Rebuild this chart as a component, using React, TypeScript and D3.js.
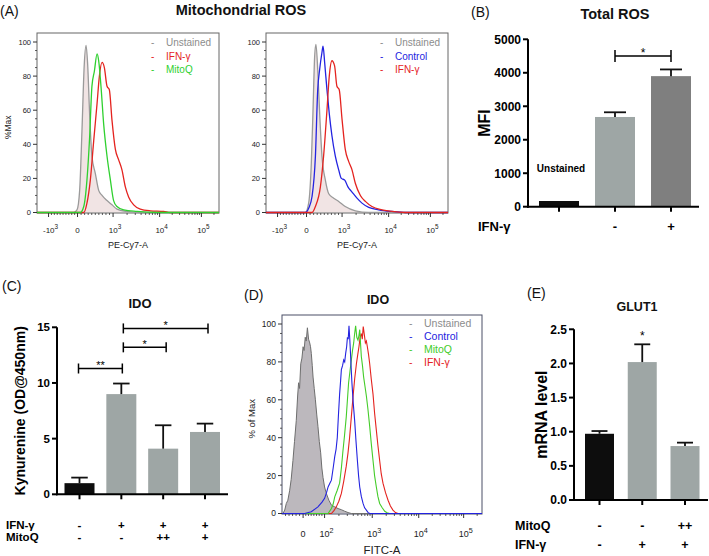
import React from "react";
import * as d3 from "d3";

const FONT = "'Liberation Sans', Arial, Helvetica, sans-serif";
const GAMMA_LABEL = "IFN-\u03b3";

type Pt = [number, number];

// ---------- Panel A (flow histograms, x in display channels 0-1024, y in %Max) ----------
const aTickChannels = [65, 228, 428, 690, 925];
const aTickBase = ["-10", "0", "10", "10", "10"];
const aTickExp = ["3", "", "3", "4", "5"];

const aLeftUnstained: Pt[] = [[0,0],[206,0],[225,1.5],[240,13],[253,48],[266,87],[276,98],[285,87],[296,58],[309,33],[328,23],[347,13],[366,10],[394,7],[422,4.5],[450,2],[506,0.6],[581,0],[1024,0]];
const aLeftIfn: Pt[] = [[0,0],[263,0],[281,5.5],[300,19],[319,42],[338,64],[351,80],[366,88],[379,85],[394,74],[407,72],[422,54],[441,37],[459,31],[478,25],[497,15],[516,9],[544,4.5],[581,2],[638,1],[713,0.6],[750,0],[1024,0]];
const aLeftMitoQ: Pt[] = [[0,0],[244,0],[263,3.5],[281,19],[296,44],[309,74],[323,83],[338,93],[347,89],[360,74],[375,52],[394,33],[413,19],[431,7],[450,3.5],[488,1.5],[563,0.6],[675,0],[1024,0]];

const aRightUnstained: Pt[] = [[0,0],[221,0],[240,5.5],[255,29],[264,58],[274,92],[281,98.6],[291,84],[302,58],[315,33],[334,19],[353,11],[381,8.4],[409,6.5],[446,3.5],[503,1],[578,0],[1024,0]];
const aRightControl: Pt[] = [[0,0],[221,0],[240,2.5],[259,9.4],[278,33],[291,72],[302,84],[315,94],[321,97.6],[330,88],[343,72],[356,58],[371,45],[390,33],[409,25],[424,20],[443,19],[461,15],[484,12],[512,8.4],[540,5.5],[578,3],[634,1.6],[709,0.6],[784,0],[1024,0]];
const aRightIfn: Pt[] = [[0,0],[259,0],[278,3.5],[306,15],[324,33],[343,60],[356,80],[371,89],[386,86],[399,74],[412,72],[428,54.5],[446,37],[465,30],[484,25],[503,17],[531,10],[559,6.5],[596,3.5],[653,1.6],[709,0.6],[784,0],[1024,0]];

const aLeftLegend = ["Unstained", GAMMA_LABEL, "MitoQ"];
const aRightLegend = ["Unstained", "Control", GAMMA_LABEL];

// ---------- Panel B ----------
const bCats = ["Unstained", "Control", "IFN"];
const bValues = [170, 2680, 3900];
const bErrors = [0, 140, 200];
const bTicks = [0, 1000, 2000, 3000, 4000, 5000];
const bIfnRow = ["", "-", "+"];

// ---------- Panel C ----------
const cCats = ["c1", "c2", "c3", "c4"];
const cValues = [1.0, 9.0, 4.1, 5.6];
const cErrors = [0.5, 0.95, 2.1, 0.75];
const cTicks = [0, 5, 10, 15];
const cIfnRow = ["-", "+", "+", "+"];
const cMitoRow = ["-", "-", "++", "+"];
const cBrackets: { a: number; b: number; level: number; label: string }[] = [
  { a: 0, b: 1, level: 11.3, label: "**" },
  { a: 1, b: 2, level: 13.2, label: "*" },
  { a: 1, b: 3, level: 14.9, label: "*" },
];

// ---------- Panel D ----------
const dTickChannels = [108, 218, 462, 700, 930];
const dTickBase = ["0", "10", "10", "10", "10"];
const dTickExp = ["", "2", "3", "4", "5"];
const dUnstained: Pt[] = [[0,0],[5,0],[14,1.8],[22,5.3],[30,7],[39,12],[47,18],[56,28],[64,38],[73,49],[80,62],[85,69],[90,66],[96,79],[102,82],[108,88],[113,86],[119,93],[124,91],[130,98],[136,92],[142,90],[146,88],[150,84.5],[155,78],[159,72],[165,66],[171,60],[178,52],[184,46],[191,38],[198,32],[204,24],[210,19],[218,14],[227,10.6],[240,7],[253,4.4],[270,3.5],[287,2.6],[304,2],[321,1.2],[338,0.5],[355,0],[1024,0]];
const dControl: Pt[] = [[0,0],[116,0],[150,0.9],[184,3.5],[205,6],[218,8],[228,11],[236,14],[245,16],[253,17.6],[262,24],[270,30],[277,34],[283,40],[289,52],[295,63],[300,70],[304,76],[310,78],[316,81],[321,80],[326,84.5],[331,88],[335,93],[339,92],[343,99],[347,92],[350,86],[354,77],[358,69],[365,58],[372,49],[379,38],[386,28],[392,20],[398,14],[406,9],[415,5.3],[423,3],[432,1.8],[440,0.6],[449,0],[1024,0]];
const dMitoQ: Pt[] = [[0,0],[236,0],[253,2.6],[262,5],[270,8.8],[282,12],[295,16],[304,24],[312,33],[320,41],[329,51],[335,60],[341,69],[348,75],[355,81],[361,86],[367,90],[372,95],[377,99],[383,93],[389,91.5],[394,94],[398,97],[402,90],[406,83],[412,78],[418,72],[425,67],[432,62],[440,55],[449,46],[457,37],[466,28],[474,20],[483,14],[491,9],[500,5.3],[513,3],[526,1.2],[538,0.4],[551,0],[1024,0]];
const dIfn: Pt[] = [[0,0],[253,0],[266,1.5],[278,3.5],[291,6.5],[304,10.6],[316,17],[329,25],[338,32],[346,40],[355,51],[364,62],[372,71],[381,79],[388,84],[394,88],[400,93],[406,95],[411,92],[416,98.6],[422,94],[427,90],[432,91],[437,88],[443,84],[449,79],[457,71],[466,63],[474,53],[483,44],[491,36],[500,28],[508,21],[517,16],[530,11],[543,7],[555,4],[568,1.8],[581,0.5],[594,0],[1024,0]];
const dLegend = ["Unstained", "Control", "MitoQ", GAMMA_LABEL];

// ---------- Panel E ----------
const eCats = ["e1", "e2", "e3"];
const eValues = [0.97, 2.02, 0.79];
const eErrors = [0.04, 0.26, 0.05];
const eTicks = [0, 0.5, 1.0, 1.5, 2.0, 2.5];
const eMitoRow = ["-", "-", "++"];
const eIfnRow = ["-", "+", "+"];

const C_GRAY_LINE = "#9a9a9a";
const C_RED = "#e4231f";
const C_GREEN = "#2fd02f";
const C_BLUE = "#2323e0";
const BAR_BLACK = "#0d0d0d";
const BAR_GRAY = "#9ea6a5";
const BAR_DARK = "#7f7f7f";

type Series = { data: Pt[]; color: string; fill?: string; width?: number };

function Hist(props: {
  left: number; right: number; top: number; bottom: number; y0: number; y100: number;
  series: Series[]; tickCh: number[]; tickBase: string[]; tickExp: string[];
  tickLabelY: number; tickFont: number; legend: string[]; legendColors: string[];
  legendX: number; legendY: number; legendStep: number; legendFont: number;
  xLabel: string; xLabelY: number; xLabelFont: number;
  yLabel?: string; yLabelX?: number; yTickFont: number; frameColor: string;
  curve: d3.CurveFactory; minorLinear: number[][];
}) {
  const p = props;
  const xs = d3.scaleLinear().domain([0, 1024]).range([p.left, p.right]);
  const ys = d3.scaleLinear().domain([0, 100]).range([p.y0, p.y100]);
  const line = d3.line<Pt>().x((d) => xs(d[0])).y((d) => ys(d[1])).curve(p.curve);
  const area = d3.area<Pt>().x((d) => xs(d[0])).y0(ys(0)).y1((d) => ys(d[1])).curve(p.curve);
  const majorY = d3.range(0, 101, 20);
  const minorY = d3.range(0, 101, 5).filter((v) => v % 20 !== 0);
  const minorX: number[] = [];
  for (let i = 0; i < p.tickCh.length - 1; i++) {
    const a = p.tickCh[i], b = p.tickCh[i + 1];
    const isLog = p.tickExp[i] !== "" && p.tickBase[i] === "10" && p.tickBase[i + 1] === "10";
    if (isLog) {
      for (let m = 2; m <= 9; m++) minorX.push(a + Math.log10(m) * (b - a));
    }
  }
  p.minorLinear.forEach(([a, b, n]) => {
    for (let k = 1; k < n; k++) minorX.push(a + ((b - a) * k) / n);
  });
  const last = p.tickCh[p.tickCh.length - 1];
  const prev = p.tickCh[p.tickCh.length - 2];
  for (let m = 2; m <= 9; m++) {
    const v = last + Math.log10(m) * (last - prev);
    if (v < 1024) minorX.push(v);
  }
  return (
    <g fontFamily={FONT}>
      {p.series.map((s, i) =>
        s.fill ? <path key={"f" + i} d={area(s.data) || ""} fill={s.fill} stroke="none" /> : null
      )}
      <rect x={p.left} y={p.top} width={p.right - p.left} height={p.bottom - p.top} fill="none" stroke={p.frameColor} strokeWidth={1} />
      {p.series.map((s, i) => (
        <path key={"l" + i} d={line(s.data) || ""} fill="none" stroke={s.color} strokeWidth={s.width ?? 1.3} />
      ))}
      {majorY.map((v) => (
        <g key={"my" + v}>
          <line x1={p.left - 4} x2={p.left} y1={ys(v)} y2={ys(v)} stroke="#333" strokeWidth={1} />
          <text x={p.left - 6} y={ys(v) + p.yTickFont * 0.35} textAnchor="end" fontSize={p.yTickFont} fill="#222">{v}</text>
        </g>
      ))}
      {minorY.map((v) => (
        <line key={"ny" + v} x1={p.left - 2} x2={p.left} y1={ys(v)} y2={ys(v)} stroke="#333" strokeWidth={0.8} />
      ))}
      {p.tickCh.map((c, i) => (
        <g key={"mx" + i}>
          <line x1={xs(c)} x2={xs(c)} y1={p.bottom} y2={p.bottom + 4} stroke="#333" strokeWidth={1} />
          <text x={xs(c) + (p.tickExp[i] ? 2 : 0)} y={p.tickLabelY} textAnchor="middle" fontSize={p.tickFont} fill="#222">
            {p.tickBase[i]}
            {p.tickExp[i] ? <tspan dy={-p.tickFont * 0.5} fontSize={p.tickFont * 0.8}>{p.tickExp[i]}</tspan> : null}
          </text>
        </g>
      ))}
      {minorX.map((c, i) => (
        <line key={"nx" + i} x1={xs(c)} x2={xs(c)} y1={p.bottom} y2={p.bottom + 2} stroke="#333" strokeWidth={0.8} />
      ))}
      <text x={(p.left + p.right) / 2} y={p.xLabelY} textAnchor="middle" fontSize={p.xLabelFont} fill="#222">{p.xLabel}</text>
      {p.yLabel ? (
        <text transform={`translate(${p.yLabelX},${(p.y0 + p.y100) / 2}) rotate(-90)`} textAnchor="middle" fontSize={p.yTickFont + 1} fill="#222">{p.yLabel}</text>
      ) : null}
      {p.legend.map((t, i) => (
        <g key={"lg" + i}>
          <text x={p.legendX} y={p.legendY + i * p.legendStep} fontSize={p.legendFont} fill={p.legendColors[i]}>-</text>
          <text x={p.legendX + 15} y={p.legendY + i * p.legendStep} fontSize={p.legendFont} fill={p.legendColors[i]}>{t}</text>
        </g>
      ))}
    </g>
  );
}

function BarPanel(props: {
  cats: string[]; values: number[]; errors: number[]; colors: string[];
  yMax: number; ticks: number[]; fmt: (v: number) => string;
  yBottom: number; yTop: number; centerFirst: number; centerLast: number;
  axisX: number; xEnd: number; barW: number; tickFont: number;
  yLabel: string; yLabelX: number; yLabelFont: number;
}) {
  const p = props;
  const ys = d3.scaleLinear().domain([0, p.yMax]).range([p.yBottom, p.yTop]);
  const xs = d3.scalePoint<string>().domain(p.cats).range([p.centerFirst, p.centerLast]);
  const cap = p.barW * 0.55;
  return (
    <g fontFamily={FONT}>
      {p.cats.map((c, i) => (
        <rect key={"b" + c} x={(xs(c) as number) - p.barW / 2} y={ys(p.values[i])} width={p.barW} height={ys(0) - ys(p.values[i])} fill={p.colors[i]} />
      ))}
      {p.cats.map((c, i) =>
        p.errors[i] > 0 ? (
          <g key={"e" + c} stroke="#111" strokeWidth={1.8}>
            <line x1={xs(c) as number} x2={xs(c) as number} y1={ys(p.values[i])} y2={ys(p.values[i] + p.errors[i])} />
            <line x1={(xs(c) as number) - cap / 2} x2={(xs(c) as number) + cap / 2} y1={ys(p.values[i] + p.errors[i])} y2={ys(p.values[i] + p.errors[i])} />
          </g>
        ) : null
      )}
      <line x1={p.axisX} x2={p.axisX} y1={ys(0) + 1} y2={ys(p.yMax)} stroke="#000" strokeWidth={2} />
      <line x1={p.axisX - 1} x2={p.xEnd} y1={ys(0)} y2={ys(0)} stroke="#000" strokeWidth={2} />
      {p.ticks.map((t) => (
        <g key={"t" + t}>
          <line x1={p.axisX - 5} x2={p.axisX} y1={ys(t)} y2={ys(t)} stroke="#000" strokeWidth={2} />
          <text x={p.axisX - 7} y={ys(t) + p.tickFont * 0.36} textAnchor="end" fontSize={p.tickFont} fontWeight="bold" fill="#000">{p.fmt(t)}</text>
        </g>
      ))}
      {p.cats.map((c) => (
        <line key={"xt" + c} x1={xs(c) as number} x2={xs(c) as number} y1={ys(0)} y2={ys(0) + 5} stroke="#000" strokeWidth={2} />
      ))}
      <text transform={`translate(${p.yLabelX},${(p.yBottom + p.yTop) / 2}) rotate(-90)`} textAnchor="middle" fontSize={p.yLabelFont} fontWeight="bold" fill="#000">{p.yLabel}</text>
    </g>
  );
}

function RowLabels(props: { label: string; x: number; y: number; values: string[]; centers: number[]; font: number }) {
  const p = props;
  return (
    <g fontFamily={FONT} fontWeight="bold" fontSize={p.font} fill="#000">
      <text x={p.x} y={p.y}>{p.label}</text>
      {p.values.map((v, i) => (
        <text key={i} x={p.centers[i]} y={p.y} textAnchor="middle">{v}</text>
      ))}
    </g>
  );
}

export default function App() {
  const bY = d3.scaleLinear().domain([0, 5000]).range([206.7, 39.3]);
  const bX = d3.scalePoint<string>().domain(bCats).range([559, 671]);
  const cY = d3.scaleLinear().domain([0, 15]).range([494.3, 327.3]);
  const cX = d3.scalePoint<string>().domain(cCats).range([79.5, 205]);
  const eY = d3.scaleLinear().domain([0, 2.5]).range([500, 329.3]);
  const eX = d3.scalePoint<string>().domain(eCats).range([599.5, 685]);

  const bC = bCats.map((c) => bX(c) as number);
  const cC = cCats.map((c) => cX(c) as number);
  const eC = eCats.map((c) => eX(c) as number);

  return (
    <svg width={709} height={556} style={{ position: "absolute", left: 0, top: 0, background: "#fff" }} fontFamily={FONT}>
      <rect x={0} y={0} width={709} height={556} fill="#fff" />
      {/* ---------- Panel A ---------- */}
      <text x={0} y={16} fontSize={14} fill="#111">(A)</text>
      <text x={241} y={15} fontSize={14.5} fontWeight="bold" textAnchor="middle" fill="#111">Mitochondrial ROS</text>
      <Hist
        left={37} right={219} top={33} bottom={213} y0={212.5} y100={42}
        series={[
          { data: aLeftUnstained, color: C_GRAY_LINE, fill: "#f1e4e4" },
          { data: aLeftIfn, color: C_RED },
          { data: aLeftMitoQ, color: C_GREEN },
        ]}
        tickCh={aTickChannels} tickBase={aTickBase} tickExp={aTickExp}
        tickLabelY={233} tickFont={8}
        legend={aLeftLegend} legendColors={["#8c8c8c", C_RED, C_GREEN]}
        legendX={151} legendY={46} legendStep={13.5} legendFont={10}
        xLabel="PE-Cy7-A" xLabelY={248} xLabelFont={9}
        yLabel="%Max" yLabelX={11} yTickFont={7.5} frameColor="#666"
        curve={d3.curveMonotoneX}
        minorLinear={[[65, 228, 10], [228, 428, 10]]}
      />
      <Hist
        left={266} right={448} top={33} bottom={213} y0={212.5} y100={42}
        series={[
          { data: aRightUnstained, color: C_GRAY_LINE, fill: "#f1e4e4" },
          { data: aRightControl, color: C_BLUE },
          { data: aRightIfn, color: C_RED },
        ]}
        tickCh={aTickChannels} tickBase={aTickBase} tickExp={aTickExp}
        tickLabelY={233} tickFont={8}
        legend={aRightLegend} legendColors={["#8c8c8c", C_BLUE, C_RED]}
        legendX={380} legendY={46} legendStep={13.5} legendFont={10}
        xLabel="PE-Cy7-A" xLabelY={248} xLabelFont={9}
        yTickFont={7.5} frameColor="#666"
        curve={d3.curveMonotoneX}
        minorLinear={[[65, 228, 10], [228, 428, 10]]}
      />

      {/* ---------- Panel B ---------- */}
      <text x={471} y={17} fontSize={14} fill="#111">(B)</text>
      <text x={615} y={19} fontSize={14.5} fontWeight="bold" textAnchor="middle" fill="#111">Total ROS</text>
      <BarPanel
        cats={bCats} values={bValues} errors={bErrors} colors={[BAR_BLACK, BAR_GRAY, BAR_DARK]}
        yMax={5000} ticks={bTicks} fmt={(v) => String(v)}
        yBottom={206.7} yTop={39.3} centerFirst={559} centerLast={671}
        axisX={528} xEnd={699} barW={40} tickFont={12}
        yLabel="MFI" yLabelX={490} yLabelFont={16}
      />
      <text x={bC[0] + 2} y={bY(bValues[0]) - 29} textAnchor="middle" fontSize={10} fontWeight="bold" fontFamily={FONT}>{bCats[0]}</text>
      <g stroke="#000" strokeWidth={1.5}>
        <line x1={bC[1]} x2={bC[2]} y1={bY(4500)} y2={bY(4500)} />
        <line x1={bC[1]} x2={bC[1]} y1={bY(4500) - 6} y2={bY(4500) + 6} />
        <line x1={bC[2]} x2={bC[2]} y1={bY(4500) - 6} y2={bY(4500) + 6} />
      </g>
      <text x={(bC[1] + bC[2]) / 2} y={bY(4500) + 1} textAnchor="middle" fontSize={12} fontFamily={FONT}>*</text>
      <RowLabels label={GAMMA_LABEL} x={478} y={231} values={bIfnRow} centers={bC} font={13} />

      {/* ---------- Panel C ---------- */}
      <text x={2} y={291} fontSize={14} fill="#111">(C)</text>
      <text x={140} y={308} fontSize={13} fontWeight="bold" textAnchor="middle" fill="#111">IDO</text>
      <BarPanel
        cats={cCats} values={cValues} errors={cErrors} colors={[BAR_BLACK, BAR_GRAY, BAR_GRAY, BAR_GRAY]}
        yMax={15} ticks={cTicks} fmt={(v) => String(v)}
        yBottom={494.3} yTop={327.3} centerFirst={79.5} centerLast={205}
        axisX={57} xEnd={228} barW={30} tickFont={11.5}
        yLabel="Kynurenine (OD@450nm)" yLabelX={25} yLabelFont={14}
      />
      {cBrackets.map((br, i) => {
        const y = cY(br.level);
        const xa = cC[br.a] + (br.a === 1 ? 2 : -1);
        const xb = cC[br.b] + (br.a === 1 ? 3 : 1);
        return (
          <g key={"cb" + i}>
            <g stroke="#000" strokeWidth={1.5}>
              <line x1={xa} x2={xb} y1={y} y2={y} />
              <line x1={xa} x2={xa} y1={y - 5} y2={y + 5} />
              <line x1={xb} x2={xb} y1={y - 5} y2={y + 5} />
            </g>
            <text x={(xa + xb) / 2} y={y + 1} textAnchor="middle" fontSize={11} fontFamily={FONT}>{br.label}</text>
          </g>
        );
      })}
      <RowLabels label={GAMMA_LABEL} x={6} y={529} values={cIfnRow} centers={cC} font={11.5} />
      <RowLabels label="MitoQ" x={6} y={541} values={cMitoRow} centers={cC} font={11.5} />

      {/* ---------- Panel D ---------- */}
      <text x={244} y={300} fontSize={14} fill="#111">(D)</text>
      <text x={378} y={304} fontSize={12.5} fontWeight="bold" textAnchor="middle" fill="#111">IDO</text>
      <Hist
        left={282} right={482} top={315} bottom={514} y0={513.5} y100={324}
        series={[
          { data: dUnstained, color: "#6e6e6e", fill: "#bcb8bd", width: 1 },
          { data: dIfn, color: C_RED, width: 1.1 },
          { data: dMitoQ, color: "#44cc2a", width: 1.1 },
          { data: dControl, color: C_BLUE, width: 1.1 },
        ]}
        tickCh={dTickChannels} tickBase={dTickBase} tickExp={dTickExp}
        tickLabelY={537} tickFont={9}
        legend={dLegend} legendColors={["#8c8c8c", C_BLUE, "#44cc2a", C_RED]}
        legendX={409} legendY={327} legendStep={13} legendFont={10.5}
        xLabel="FITC-A" xLabelY={554} xLabelFont={11.5}
        yLabel="% of Max" yLabelX={255} yTickFont={8.5} frameColor="#4a4f66"
        curve={d3.curveLinear}
        minorLinear={[[0, 108, 6], [108, 218, 8]]}
      />

      {/* ---------- Panel E ---------- */}
      <text x={527} y={298} fontSize={14} fill="#111">(E)</text>
      <text x={637} y={311} fontSize={12.5} fontWeight="bold" textAnchor="middle" fill="#111">GLUT1</text>
      <BarPanel
        cats={eCats} values={eValues} errors={eErrors} colors={[BAR_BLACK, BAR_GRAY, BAR_GRAY]}
        yMax={2.5} ticks={eTicks} fmt={(v) => d3.format(".1f")(v)}
        yBottom={500} yTop={329.3} centerFirst={599.5} centerLast={685}
        axisX={574} xEnd={708} barW={29} tickFont={12}
        yLabel="mRNA level" yLabelX={547} yLabelFont={16}
      />
      <text x={eC[1]} y={eY(eValues[1] + eErrors[1]) - 4} textAnchor="middle" fontSize={12} fontFamily={FONT}>*</text>
      <RowLabels label="MitoQ" x={515} y={530} values={eMitoRow} centers={eC} font={12.5} />
      <RowLabels label={GAMMA_LABEL} x={515} y={549} values={eIfnRow} centers={eC} font={12.5} />
    </svg>
  );
}
